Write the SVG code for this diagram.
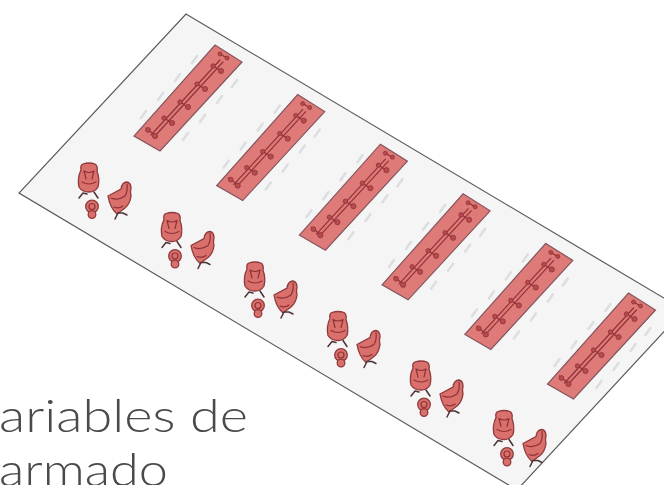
<svg xmlns="http://www.w3.org/2000/svg" width="664" height="485" viewBox="0 0 664 485">
<style>
.s{stroke:#8f3337;stroke-width:1.2;fill:none;stroke-linecap:round}
.k{stroke:#4d3035;stroke-width:1.5;fill:none;stroke-linecap:round}
.t{fill:#de7a78;stroke:#84545f;stroke-width:1.2}
.n{fill:#b9494c;stroke:#8f3337;stroke-width:.8}
.c{fill:#d96f6c;stroke:#8f3a3c;stroke-width:1.3}
.g{stroke:#dcdee0;stroke-width:2.6;fill:none;stroke-linecap:round}
.l{font-family:"Lato","Open Sans",sans-serif;font-size:45px;fill:#4a4a4a;font-weight:300}
</style>
<defs>
<filter id="b" x="-10%" y="-10%" width="120%" height="120%"><feGaussianBlur stdDeviation="0.6"/></filter>
<g id="table">
<path class="g" d="M141 118l5-7M158 100l5-7M175 81l5-7M192 63l5-7M183 140l5-7M200 122l5-7M217 103l5-7M232 87l5-7"/>
<polygon class="t" points="215,45 242,62 160,151 134,136"/>
<path class="s" d="M151 135L220 60M154 137L223 62M146 128l11 9M163 117l10 7M179 101l10 7M196 83l10 7M212 65l10 7M219 53l9 6"/>
<circle class="n" cx="148" cy="130" r="2.4"/><circle class="n" cx="155" cy="136" r="2.6"/>
<circle class="n" cx="164" cy="118" r="2.2"/><circle class="n" cx="172" cy="123" r="2.6"/>
<circle class="n" cx="180" cy="102" r="2.2"/><circle class="n" cx="188" cy="107" r="2.6"/>
<circle class="n" cx="197" cy="84" r="2.2"/><circle class="n" cx="205" cy="89" r="2.6"/>
<circle class="n" cx="213" cy="66" r="2.2"/><circle class="n" cx="221" cy="71" r="2.6"/>
<circle class="n" cx="220" cy="54" r="2"/><circle class="n" cx="227" cy="58" r="2"/>
</g>
<g id="set">
<path class="c" d="M83 164q6-2 12 0q3 2 2 7q3 8 1 16q-3 5-9 5q-7 0-10-5q-2-9 2-17q-1-5 2-6z"/>
<path class="s" d="M84 171q5 3 10 0M84 171l2 8M94 171l-2 8M82 182q7 4 14 0"/>
<path class="k" d="M83 193l-4 5M83 193l4 1M94 192l4 6"/>
<path class="c" d="M108 196l13-7q1-7 6-7q4 1 4 6q-1 4 0 8q-1 8-6 12l-8 6q-7-6-9-18z"/>
<path class="s" d="M111 198q7 3 14-2M125 196q3-5 2-12M114 207q5 2 9-1"/>
<path class="k" d="M118 213l-3 6M118 213l5 0 4 2"/>
<circle class="c" cx="92" cy="206.500" r="6.300"/><circle class="c" cx="92" cy="214.500" r="3.800"/>
<circle class="s" cx="92" cy="206.500" r="3"/>
</g>
</defs>
<polygon points="186,14 684,310 517,490 19,193" fill="#f5f5f5" stroke="#5a5a5a" stroke-width="1.2"/>
<g filter="url(#b)">
<g id="tables">
<use id="table-1" href="#table"/>
<use id="table-2" href="#table" x="82.7" y="49.600"/>
<use id="table-3" href="#table" x="165.400" y="99.200"/>
<use id="table-4" href="#table" x="248.100" y="148.800"/>
<use id="table-5" href="#table" x="330.800" y="198.400"/>
<use id="table-6" href="#table" x="413.500" y="248"/>
</g>
<g id="seats">
<use id="seats-1" href="#set"/>
<use id="seats-2" href="#set" x="83" y="49.500"/>
<use id="seats-3" href="#set" x="166" y="99"/>
<use id="seats-4" href="#set" x="249" y="148.500"/>
<use id="seats-5" href="#set" x="332" y="198"/>
<use id="seats-6" href="#set" x="415" y="247.500"/>
</g>
</g>
<text class="l" x="-1" y="432" textLength="249" lengthAdjust="spacingAndGlyphs">ariables de</text>
<text class="l" x="-1" y="486" textLength="169" lengthAdjust="spacingAndGlyphs">armado</text>
</svg>
